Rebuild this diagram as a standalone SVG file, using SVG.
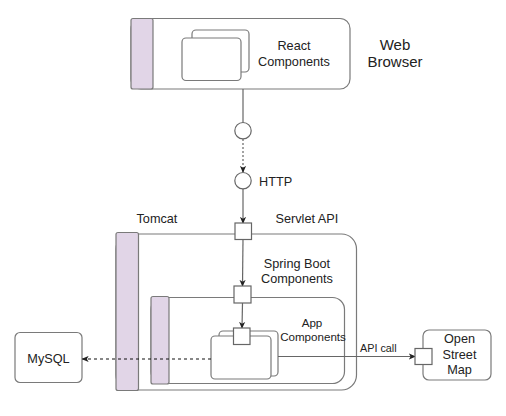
<svg xmlns="http://www.w3.org/2000/svg" width="506" height="416" viewBox="0 0 506 416">
<defs>
<style>
.box{fill:#fff;stroke:#7a7a7a;stroke-width:1.2}
.bar{fill:#e1d5e7;stroke:#7a7a7a;stroke-width:1.2}
.port{fill:#fff;stroke:#666;stroke-width:1.2}
.ln{fill:none;stroke:#666;stroke-width:1.2}
.t{font-family:"Liberation Sans",Arial,sans-serif;font-size:12.7px;fill:#222}
.c{text-anchor:middle}
</style>
<marker id="arr" viewBox="0 0 8 8" refX="7" refY="4" markerWidth="7" markerHeight="7" markerUnits="userSpaceOnUse" orient="auto">
<path d="M0,0.5 L8,4 L0,7.5 L2,4 Z" fill="#222"/>
</marker>
</defs>
<rect width="506" height="416" fill="#fff"/>

<g id="web-browser">
<rect class="box" x="131" y="18.5" width="219" height="70.5" rx="10"/>
<rect class="bar" x="131" y="18.5" width="22" height="70.5" rx="2"/>
<rect class="box" x="192" y="30" width="57" height="42" rx="4"/>
<rect class="box" x="182" y="38" width="59" height="42.5" rx="4"/>
<text class="t c" x="294" y="50">React</text>
<text class="t c" x="294" y="66">Components</text>
<text class="t c" x="395" y="50" style="font-size:15px">Web</text>
<text class="t c" x="395" y="67" style="font-size:15px">Browser</text>
</g>

<g id="tomcat">
<rect class="box" x="116" y="234" width="240.5" height="156" rx="15"/>
<rect class="bar" x="116" y="232.5" width="22.5" height="158" rx="2"/>
<text class="t" x="136.5" y="222.7">Tomcat</text>
</g>

<g id="spring-boot">
<rect class="box" x="151" y="297.5" width="193.5" height="86" rx="12"/>
<rect class="bar" x="151" y="296.5" width="18" height="87.5" rx="2"/>
<text class="t c" x="297" y="267.7">Spring Boot</text>
<text class="t c" x="297" y="282.7">Components</text>
</g>

<g id="app-components">
<rect class="box" x="219" y="331" width="59" height="45" rx="4"/>
<rect class="box" x="211" y="336" width="60" height="43" rx="4"/>
<text class="t c" x="312" y="327" style="font-size:11.6px">App</text>
<text class="t c" x="313" y="340.7" style="font-size:11.6px">Components</text>
</g>

<g id="mysql">
<rect class="box" x="15" y="332.5" width="67" height="50" rx="5"/>
<text class="t c" x="48.5" y="363.3">MySQL</text>
</g>

<g id="open-street-map">
<rect class="box" x="423" y="330" width="68" height="50" rx="6"/>
<text class="t c" x="459.5" y="343.3">Open</text>
<text class="t c" x="459.5" y="359">Street</text>
<text class="t c" x="459.5" y="374">Map</text>
</g>

<g id="connectors">
<line class="ln" x1="243" y1="89" x2="243" y2="122.5"/>
<line class="ln" x1="243" y1="139" x2="243" y2="172" stroke-dasharray="2,2" marker-end="url(#arr)"/>
<line class="ln" x1="243" y1="189" x2="243" y2="223" marker-end="url(#arr)"/>
<line class="ln" x1="243" y1="239" x2="242.5" y2="286" marker-end="url(#arr)"/>
<line class="ln" x1="242.5" y1="303" x2="242" y2="328" marker-end="url(#arr)"/>
<line x1="211" y1="359" x2="82.5" y2="359" fill="none" stroke="#111" stroke-width="1.2" stroke-dasharray="3,3" marker-end="url(#arr)"/>
<line class="ln" x1="278" y1="356.5" x2="415" y2="356.5" marker-end="url(#arr)"/>
<text class="t" x="360" y="351.5" style="font-size:10.8px">API call</text>
</g>

<g id="interfaces">
<circle class="port" cx="243" cy="130.7" r="8.2"/>
<circle class="port" cx="243" cy="180.7" r="8.2"/>
<text class="t" x="259" y="186">HTTP</text>
<rect class="port" x="235" y="223" width="16.5" height="16.5"/>
<text class="t" x="275.5" y="222.7">Servlet API</text>
<rect class="port" x="234" y="286" width="17" height="17"/>
<rect class="port" x="233.5" y="328" width="16.5" height="16.5"/>
<rect class="port" x="415" y="348.5" width="17" height="16"/>
</g>
</svg>
